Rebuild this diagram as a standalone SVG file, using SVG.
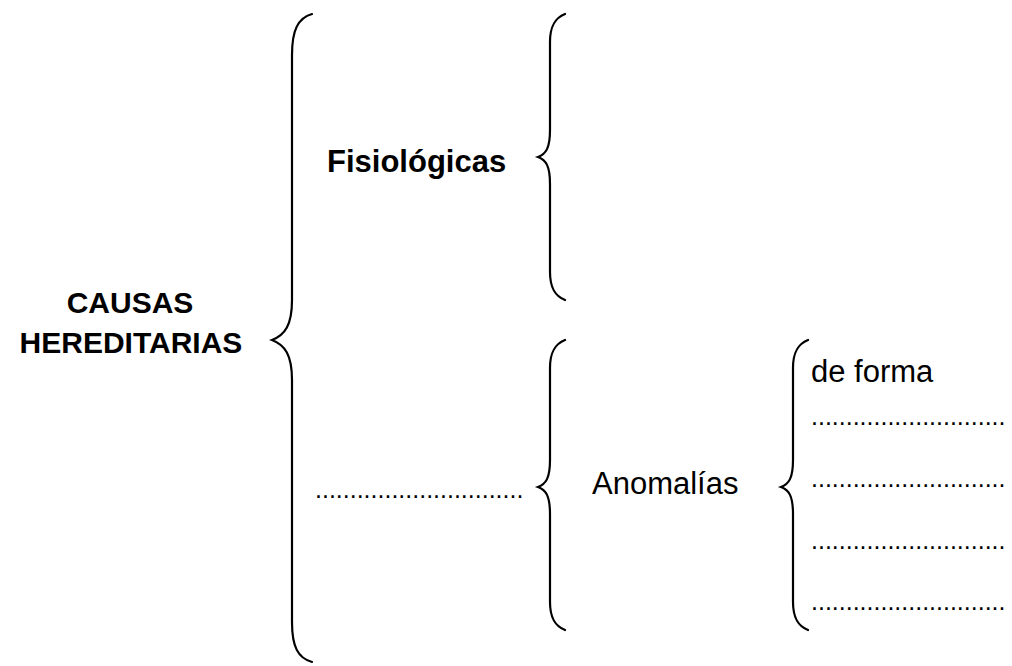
<svg xmlns="http://www.w3.org/2000/svg" width="1012" height="666" viewBox="0 0 1012 666">
<style>
.b{fill:none;stroke:#000;stroke-width:2.2;stroke-linecap:round}
.t{font-family:"Liberation Sans",Arial,sans-serif;font-size:31px;fill:#000}
.bold{font-weight:bold;font-size:30px}
.d{font-family:"Liberation Sans",Arial,sans-serif;font-size:25px;fill:#000}
</style>
<rect width="1012" height="666" fill="#fff"/>
<g id="connectors">
<path class="b" d="M312,14 C298,18 292,30 292,55 L292,300 C292,325 285,335 272,340 C285,345 292,355 292,380 L292,622 C292,647 298,658 312,662"/>
<path class="b" d="M565,14 C555,18 550,26 550,42 L550,130 C550,148 546,154 538,157 C546,160 550,166 550,184 L550,272 C550,288 555,296 565,300"/>
<path class="b" d="M565,340 C555,344 550,352 550,368 L550,460 C550,478 546,484 538,487 C546,490 550,496 550,514 L550,602 C550,618 555,626 565,630"/>
<path class="b" d="M808,340 C798,344 793,352 793,368 L793,460 C793,478 789,484 781,487 C789,490 793,496 793,514 L793,602 C793,618 798,626 808,630"/>
</g>
<g id="causas"><text class="t bold" x="130" y="313" text-anchor="middle">CAUSAS</text><text class="t bold" x="131" y="353" text-anchor="middle">HEREDITARIAS</text></g>
<g id="fisiologicas"><text class="t bold" x="327" y="172" style="font-size:31px">Fisiológicas</text></g>
<g id="blank1"><text class="d" x="315" y="498">..............................</text></g>
<g id="anomalias"><text class="t" x="592" y="494">Anomalías</text></g>
<g id="deforma"><text class="t" x="811" y="382">de forma</text></g>
<g id="blank2"><text class="d" x="811" y="425">............................</text></g>
<g id="blank3"><text class="d" x="811" y="487">............................</text></g>
<g id="blank4"><text class="d" x="811" y="549">............................</text></g>
<g id="blank5"><text class="d" x="811" y="610">............................</text></g>
</svg>
